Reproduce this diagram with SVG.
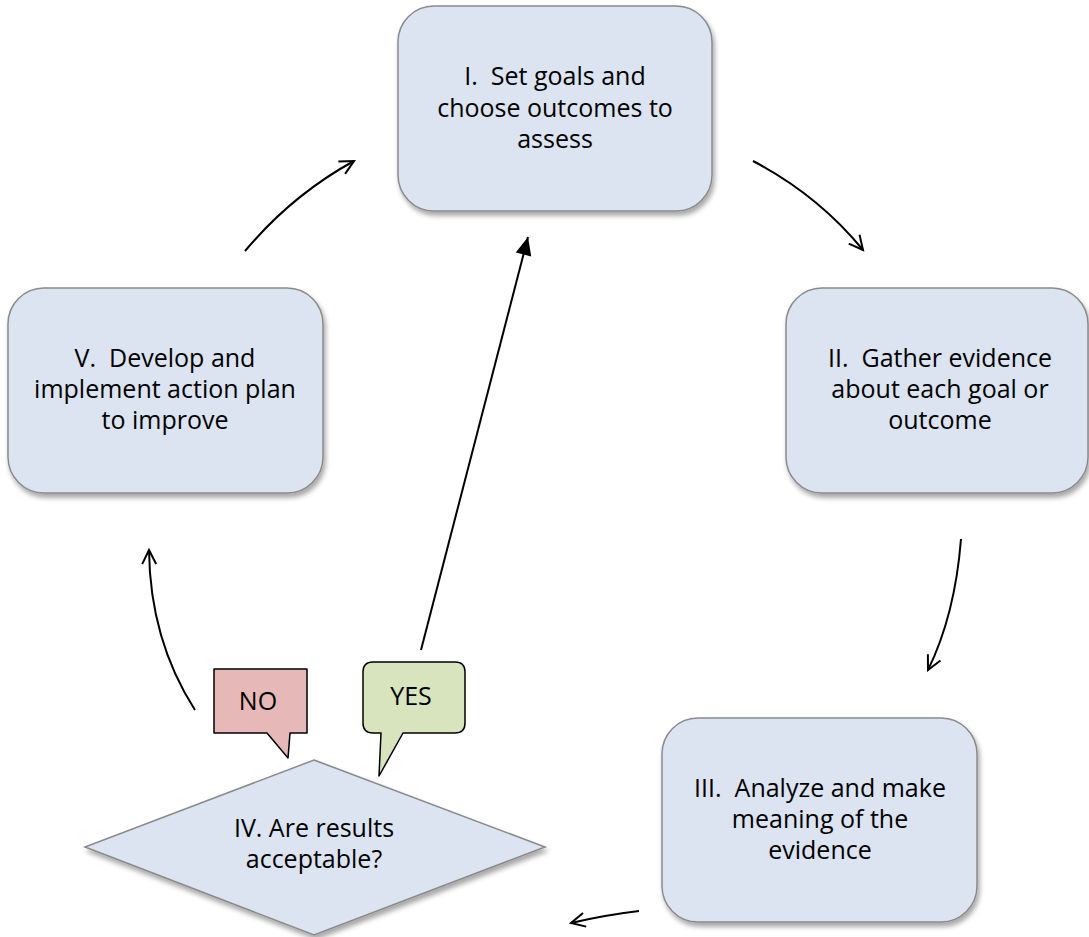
<svg xmlns="http://www.w3.org/2000/svg" width="1089" height="937" viewBox="0 0 1089 937">
<style>
.box{fill:#dbe4f0;stroke:#8a8a8a;stroke-width:1.5;filter:url(#sh)}
.t{font-family:"Open Sans","Liberation Sans",sans-serif;font-size:25px;fill:#000;text-anchor:middle}
.c{fill:none;stroke:#000;stroke-width:2}
</style>
<defs>
<filter id="sh" x="-10%" y="-10%" width="130%" height="130%">
<feDropShadow dx="2" dy="4" stdDeviation="2.5" flood-color="#000" flood-opacity="0.35"/>
</filter>
<marker id="open" viewBox="-16 -10 20 20" refX="0" refY="0" markerWidth="20" markerHeight="20" markerUnits="userSpaceOnUse" orient="auto">
<path d="M-14,-7 L0,0 L-14,7" fill="none" stroke="#000" stroke-width="2"/>
</marker>
<marker id="solid" viewBox="-20 -10 22 20" refX="0" refY="0" markerWidth="22" markerHeight="20" markerUnits="userSpaceOnUse" orient="auto">
<path d="M-18,-8 L0,0 L-18,8 Z" fill="#000"/>
</marker>
</defs>
<rect width="1089" height="937" fill="#fff"/>
<g id="connectors">
<path class="c" d="M753,161 Q818,195 863,250" marker-end="url(#open)"/>
<path class="c" d="M961,539 Q955,615 928,670" marker-end="url(#open)"/>
<path class="c" d="M639,911 Q605,915 571,923" marker-end="url(#open)"/>
<path class="c" d="M195,710 Q150,640 149,550" marker-end="url(#open)"/>
<path class="c" d="M245,251 Q292,195 354,161" marker-end="url(#open)"/>
<path class="c" d="M421,650 L528,237" marker-end="url(#solid)"/>
</g>
<g id="node-1">
<rect class="box" x="398" y="6" width="314" height="205" rx="36"/>
<text class="t" x="555" y="85" xml:space="preserve">I.  Set goals and</text>
<text class="t" x="555" y="117">choose outcomes to</text>
<text class="t" x="555" y="148">assess</text>
</g>
<g id="node-2">
<rect class="box" x="786" y="288" width="302" height="205" rx="36"/>
<text class="t" x="940" y="367" xml:space="preserve">II.  Gather evidence</text>
<text class="t" x="940" y="398">about each goal or</text>
<text class="t" x="940" y="429">outcome</text>
</g>
<g id="node-3">
<rect class="box" x="662" y="718" width="315" height="204" rx="36"/>
<text class="t" x="820" y="797" xml:space="preserve">III.  Analyze and make</text>
<text class="t" x="820" y="828">meaning of the</text>
<text class="t" x="820" y="859">evidence</text>
</g>
<g id="node-4">
<polygon class="box" points="314,760 545,847 314,935 85,847"/>
<text class="t" x="314" y="837">IV. Are results</text>
<text class="t" x="314" y="868">acceptable?</text>
</g>
<g id="node-5">
<rect class="box" x="8" y="288" width="315" height="205" rx="36"/>
<text class="t" x="165" y="367" xml:space="preserve">V.  Develop and</text>
<text class="t" x="165" y="398">implement action plan</text>
<text class="t" x="165" y="429">to improve</text>
</g>
<g id="label-no">
<path d="M214,669 H307 V733 H290 L288,758 L267,733 H214 Z" fill="#e6b9b8" stroke="#000" stroke-width="1.5" stroke-linejoin="round"/>
<text class="t" x="258" y="710">NO</text>
</g>
<g id="label-yes">
<path d="M373,662 H455 Q465,662 465,672 V723 Q465,733 455,733 H403 L379,776 L381,733 H373 Q363,733 363,723 V672 Q363,662 373,662 Z" fill="#d7e4bd" stroke="#000" stroke-width="1.5" stroke-linejoin="round"/>
<text class="t" x="411" y="705">YES</text>
</g>
</svg>
